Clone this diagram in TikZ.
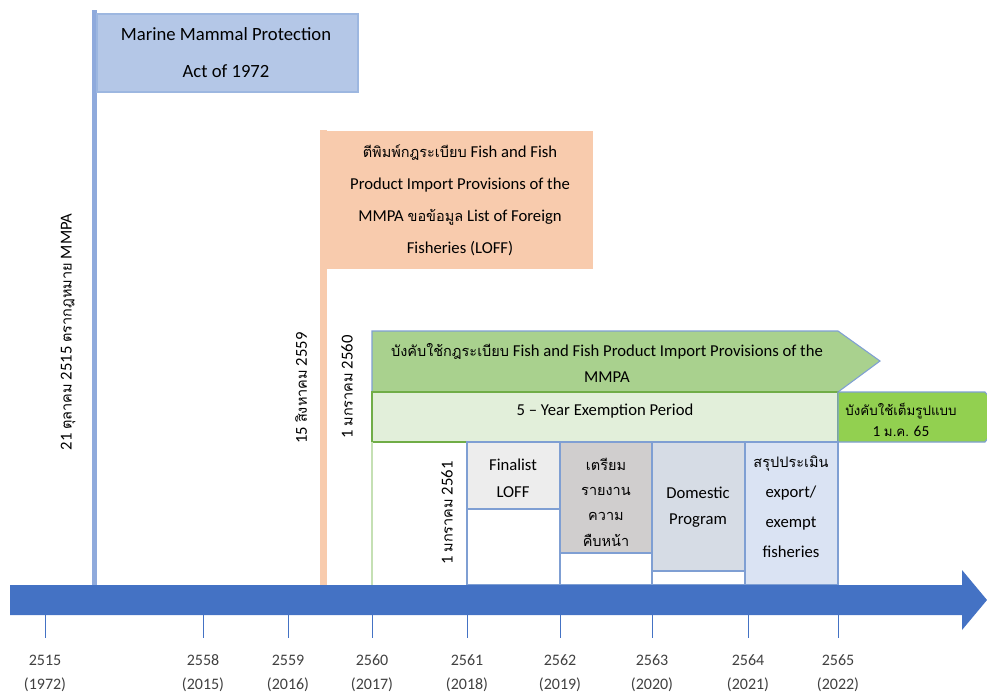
\documentclass[tikz,border=0pt]{standalone}
\usepackage{fontspec}
\setmainfont{Carlito}
\newfontfamily\thaifont[Script=Thai,Scale=0.87]{Loma}
\newcommand\T[1]{{\thaifont #1}}
\definecolor{mainblue}{HTML}{4472C4}
\definecolor{poleblue}{HTML}{8FAADC}
\definecolor{boxblue}{HTML}{B4C7E7}
\definecolor{boxblueline}{HTML}{9DB7E0}
\definecolor{orange1}{HTML}{F8CBAD}
\definecolor{green1}{HTML}{A9D18E}
\definecolor{green2}{HTML}{E2EFDA}
\definecolor{green3}{HTML}{92D050}
\definecolor{greenline}{HTML}{70AD47}
\definecolor{paleline}{HTML}{C5E0B4}
\definecolor{colline}{HTML}{7F9FD3}
\definecolor{grey1}{HTML}{EDEDED}
\definecolor{grey2}{HTML}{D0CECE}
\definecolor{grey3}{HTML}{D6DCE5}
\definecolor{blue4}{HTML}{DAE3F3}
\definecolor{labgrey}{HTML}{404040}
\tikzset{
  txt/.style={align=center, inner sep=0pt, text=black},
  rot/.style={rotate=90, inner sep=0pt, text=black, font=\fontsize{12.5}{15}\selectfont},
  tick/.style={draw=mainblue, line width=0.5pt},
  yr/.style={inner sep=0pt, text=labgrey, font=\fontsize{12}{14}\selectfont},
  colbox/.style={draw=colline, line width=0.8pt},
}
\begin{document}
\begin{tikzpicture}[x=0.75pt,y=-0.75pt]
\useasboundingbox (0,0) rectangle (987,694);
\clip (0,0) rectangle (987,694);

% flag 1 (blue)
\fill[poleblue] (92,10) rectangle (97,585);
\draw[fill=boxblue, draw=boxblueline, line width=0.8pt] (97,14) rectangle (358,92);
\node[txt, font=\fontsize{14}{27.75}\selectfont] (mmpa) at (226,53) {Marine Mammal Protection\\Act of 1972};
\node[rot] (d2515) at (68,332) {21 \T{ตุลาคม} 2515 \T{ตรากฎหมาย} MMPA};

% flag 2 (orange)
\fill[orange1] (320,130) rectangle (327,585);
\fill[orange1] (327,131) rectangle (593,269);
\node[txt, font=\fontsize{12.5}{24}\selectfont] (loff) at (460,200) {\T{ตีพิมพ์กฎระเบียบ} Fish and Fish\\Product Import Provisions of the\\MMPA \T{ขอข้อมูล} List of Foreign\\Fisheries (LOFF)};
\node[rot] (d2559) at (301,388) {15 \T{สิงหาคม} 2559};
\node[rot] (d2560) at (347,387) {1 \T{มกราคม} 2560};

% enforcement arrow
\draw[fill=green1, draw=colline, line width=0.8pt] (372,331) -- (838,331) -- (880,361) -- (838,392) -- (372,392) -- cycle;
\node[txt, font=\fontsize{12.5}{19.5}\selectfont] (enf) at (607,363) {\T{บังคับใช้กฎระเบียบ} Fish and Fish Product Import Provisions of the\\MMPA};
\draw[fill=green2, draw=greenline, line width=0.8pt] (372,392) rectangle (838,442);
\node[txt, font=\fontsize{12.5}{15}\selectfont] (exempt) at (605,411) {5 -- Year Exemption Period};
\draw[fill=green3, draw=colline, line width=0.8pt] (838,392) -- (985,392) -- (1005,417) -- (985,442) -- (838,442) -- cycle;
\node[txt, font=\fontsize{11.5}{16}\selectfont] (full) at (901,420) {\T{บังคับใช้เต็มรูปแบบ}\\1 \T{ม.ค.} 65};

% pale line at 2560
\draw[paleline, line width=0.8pt] (372,442) -- (372,585);
\node[rot] (d2561) at (447,513) {1 \T{มกราคม} 2561};

% columns
\draw[colbox] (467,442) rectangle (560,585);
\draw[colbox] (560,442) rectangle (652,585);
\draw[colbox] (652,442) rectangle (745,585);
\draw[colbox, fill=blue4] (745,442) rectangle (838,585);
\draw[colbox, fill=grey1] (467,442) rectangle (560,509);
\draw[colbox, fill=grey2] (560,442) rectangle (652,553);
\draw[colbox, fill=grey3] (652,442) rectangle (745,571);
\node[txt, font=\fontsize{12.5}{20}\selectfont] (fin) at (513,478) {Finalist\\LOFF};
\node[txt, font=\fontsize{12.5}{19}\selectfont] (prep) at (606,502) {\T{เตรียม}\\\T{รายงาน}\\\T{ความ}\\\T{คืบหน้า}};
\node[txt, font=\fontsize{12.5}{20}\selectfont] (dom) at (698,507) {Domestic\\Program};
\node[txt, font=\fontsize{12.5}{22.5}\selectfont] (sum) at (791,507) {\T{สรุปประเมิน}\\export/\\exempt\\fisheries};

% main timeline arrow
\fill[mainblue] (10,585) -- (962,585) -- (962,570) -- (987,600) -- (962,630) -- (962,615) -- (10,615) -- cycle;

% ticks and year labels
\foreach \x/\a/\b/\n in {45/2515/1972/a,203/2558/2015/b,288/2559/2016/c,372/2560/2017/d,467/2561/2018/e,560/2562/2019/f,652/2563/2020/g,748/2564/2021/h,838/2565/2022/i}{
  \draw[tick] (\x,615) -- (\x,638);
  \node[yr] (y\n) at (\x,660) {\a};
  \node[yr] (p\n) at (\x,685) {(\b)};
}
\end{tikzpicture}
\end{document}
